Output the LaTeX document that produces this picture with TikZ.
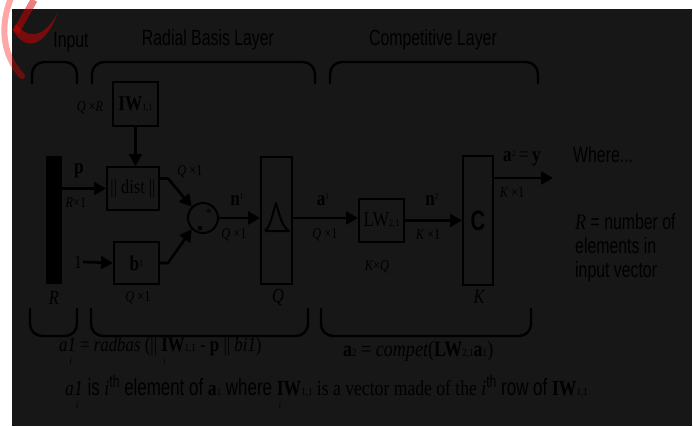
\documentclass[tikz,border=0pt]{standalone}
\usepackage{fontspec}
\newfontfamily\serN{Liberation Serif}[FakeStretch=0.82]
\newfontfamily\sanN{Liberation Sans}[FakeStretch=0.72]
\usetikzlibrary{arrows.meta,calc}
\definecolor{bg}{RGB}{23,23,23}
\newcommand\Ss[1]{{\sanN\fontsize{23.5}{23.5}\selectfont #1}}
\newcommand\Ssm[1]{{\sanN\fontsize{17}{17}\selectfont #1}}
\newcommand\Sr[1]{{\serN\fontsize{21.5}{21.5}\selectfont #1}}
\newcommand\smn[1]{{\fontsize{11}{11}\selectfont #1}}
\newcommand\lowi{\rlap{\kern2pt\raisebox{-13pt}{\serN\itshape\fontsize{10}{10}\selectfont i}}}
\tikzset{
 blk/.style={draw=black, line width=2pt, inner sep=0pt},
 arr/.style={line width=2.6pt, line join=round, -{Triangle[length=12pt,width=13pt]}},
 brc/.style={line width=2.4pt, rounded corners=12pt},
 dim/.style={font=\serN\fontsize{15}{15}\selectfont, inner sep=0pt},
 ttl/.style={font=\sanN\fontsize{22}{22}\selectfont, inner sep=0pt},
 sig/.style={font=\serN\fontsize{21}{21}\selectfont\bfseries, inner sep=0pt},
 big/.style={font=\serN\fontsize{20}{20}\selectfont\itshape, inner sep=0pt},
}
\begin{document}
\begin{tikzpicture}[x=1pt,y=-1pt]
\useasboundingbox (0,0) rectangle (693,426);
\fill[white] (0,0) rectangle (693,426);
\fill[bg] (12,9) rectangle (692,426);
% watermark logo
\draw[red, opacity=.35, line width=6pt, line cap=round] (11,-2) .. controls (0,25) and (2,55) .. (22,76);
\fill[red!85!black, opacity=.5] (13,30) .. controls (25,52) and (45,48) .. (58,12) .. controls (45,38) and (28,40) .. (16,24) -- cycle;
\draw[red!85!black, opacity=.5, line width=7pt] (16,32) -- (34,0);
% titles
\node[ttl] (tin) at (71,42) {Input};
\node[ttl] (trb) at (208,40) {Radial Basis Layer};
\node[ttl] (tcl) at (433,40) {Competitive Layer};
% braces
\draw[brc] (32,84) -- (32,62) -- (77,62) -- (77,84);
\draw[brc] (92,84) -- (92,62) -- (315,62) -- (315,84);
\draw[brc] (330,84) -- (330,62) -- (538,62) -- (538,84);
\draw[brc] (30,308) -- (30,336) -- (77,336) -- (77,308);
\draw[brc] (91,308) -- (91,336) -- (308,336) -- (308,308);
\draw[brc] (321,308) -- (321,336) -- (531,336) -- (531,308);
% blocks
\node[fill=black, minimum width=16pt, minimum height=128pt, inner sep=0pt] (inbar) at (54,220) {};
\node[blk, minimum width=45pt, minimum height=44pt] (iw) at (135.5,104) {\serN\fontsize{21}{21}\selectfont\bfseries IW\fontsize{10}{10}\selectfont\mdseries 1,1};
\node[blk, minimum width=52pt, minimum height=43pt] (dist) at (133,188.5) {\serN\fontsize{20}{20}\selectfont || dist ||};
\node[blk, minimum width=45pt, minimum height=42pt] (bb) at (136.5,263) {\serN\fontsize{21}{21}\selectfont\bfseries b\raisebox{4pt}{\fontsize{10}{10}\selectfont\mdseries 1}};
\node[draw, circle, line width=2pt, minimum size=30pt, inner sep=0pt] (sum) at (203,218) {};
\fill (197.5,225.5) rectangle (201.5,229.5);
\node[font=\serN\fontsize{13}{13}\selectfont, inner sep=0pt] (star) at (209,213) {*};
\node[blk, minimum width=31pt, minimum height=127pt] (dl) at (276.5,220.5) {};
\draw[line width=2pt, line join=round] (265,231) -- (289,231) .. controls (281,226) and (279,212) .. (276,203) .. controls (273,212) and (271,226) .. (265,231);
\node[blk, minimum width=45pt, minimum height=43pt] (lw) at (381.5,220.5) {\serN\fontsize{21}{21}\selectfont LW\fontsize{10}{10}\selectfont 2,1};
\node[blk, minimum width=30pt, minimum height=129pt, font=\sanN\bfseries\fontsize{28}{28}\selectfont] (cc) at (478,220.5) {C};
% labels
\node[sig] (plab) at (79,171) {p};
\node[dim] (rx1) at (76,203) {\itshape R\upshape×1};
\node[font=\serN\fontsize{19}{19}\selectfont, inner sep=1pt] (one) at (78,262) {1};
\node[dim] (qr) at (90,108) {\itshape Q \upshape×\itshape R};
\node[dim] (qx1d) at (190,172) {\itshape Q \upshape×1};
\node[dim] (qx1b) at (138,298) {\itshape Q \upshape×1};
\node[sig] (n1) at (237,200) {n\raisebox{6pt}{\fontsize{9}{9}\selectfont\mdseries 1}};
\node[dim] (qx1n) at (234,235) {\itshape Q \upshape×1};
\node[sig] (a1) at (323,200) {a\raisebox{6pt}{\fontsize{9}{9}\selectfont\mdseries 1}};
\node[dim] (qx1a) at (325,235) {\itshape Q \upshape×1};
\node[big] (rl) at (54,298) {R};
\node[big] (ql) at (278,297) {Q};
\node[dim] (kq) at (377,267) {\itshape K\upshape×\itshape Q};
\node[sig] (n2) at (432,200) {n\raisebox{6pt}{\fontsize{9}{9}\selectfont\mdseries 2}};
\node[dim] (kx1n) at (428,235) {\itshape K \upshape×1};
\node[big] (kl) at (479,297) {K};
\node[sig] (a2) at (522,158) {a\raisebox{5pt}{\fontsize{9}{9}\selectfont\mdseries 2}\mdseries\,=\,\bfseries y};
\node[dim] (kx1o) at (512,193) {\itshape K \upshape×1};
% connectors
\coordinate (out) at (553,178);
\draw[arr] (inbar.east |- dist.west) -- (dist.west);
\draw[arr] (iw.south) -- (iw.south |- dist.north);
\draw[arr] (one.east) -- (bb.west);
\draw[arr] ($(dist.east)+(0,-10)$) -- ++(8,0) -- (sum.135);
\draw[arr] (bb.east) -- ++(8,0) -- (sum.225);
\draw[arr] (sum.east) -- (sum.east -| dl.west);
\draw[arr] (sum.east -| dl.east) -- (sum.east -| lw.west);
\draw[arr] (lw.east) -- (lw.east -| cc.west);
\draw[arr] (cc.east |- out) -- (out);
% legend
\node[ttl, anchor=west] (wh) at (573,155) {Where...};
\node[ttl, anchor=west, align=left] (leg) at (575,248) {{\serN\itshape R} = number of\\[2pt]elements in\\[2pt]input vector};
% formulas
\node[anchor=west, inner sep=0pt, font=\serN\fontsize{20.5}{20.5}\selectfont] (f1) at (59,351) {\itshape a\lowi 1\upshape{} = \itshape radbas\upshape{} (|| \lowi\bfseries IW\smn{\mdseries 1,1}\mdseries{} - \bfseries p\mdseries{} || \itshape bi1\upshape)};
\node[anchor=west, inner sep=0pt, font=\serN\fontsize{22}{22}\selectfont] (f2) at (343,351) {\bfseries a\smn{\mdseries 2}\mdseries{} = \itshape compet\upshape(\bfseries LW\smn{\mdseries 2,1}a\smn{\mdseries 1}\mdseries)};
\node[anchor=west, inner sep=0pt, font=\sanN\fontsize{23.5}{23.5}\selectfont] (f3) at (65,392) {\Sr{\itshape a\lowi 1} \Ss{is} \Sr{\itshape i}\raisebox{8pt}{\Ssm{th}} \Ss{element of} \Sr{\bfseries a\smn{\mdseries 1}} \Ss{where} \lowi\Sr{\bfseries IW\smn{\mdseries 1,1} \mdseries is a vector made of the \itshape i}\raisebox{8pt}{\Ssm{th}} \Ss{row of} \Sr{\bfseries IW\smn{\mdseries 1,1}}};
\end{tikzpicture}
\end{document}
